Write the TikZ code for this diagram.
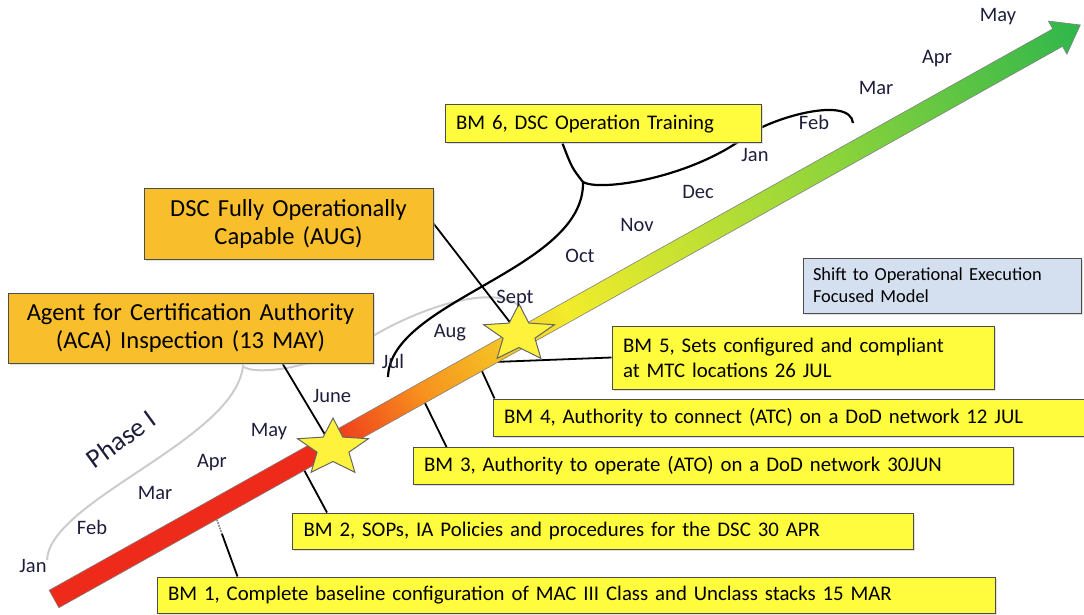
\documentclass[tikz,border=0pt]{standalone}
\usepackage{fontspec}
\setmainfont{Carlito}
\usetikzlibrary{calc,backgrounds,shadows}

\definecolor{ArrowRed}{HTML}{EE2A1B}
\definecolor{ArrowOrange}{HTML}{F7921E}
\definecolor{ArrowYellow}{HTML}{F2EC2B}
\definecolor{ArrowLime}{HTML}{8DD43B}
\definecolor{ArrowGreen}{HTML}{2FB64B}
\definecolor{GoalOrange}{HTML}{F9BE2C}
\definecolor{BMYellow}{HTML}{FFFB3D}
\definecolor{NoteBlue}{HTML}{D4E0F0}
\definecolor{StarYellow}{HTML}{FFF23C}
\definecolor{MonthInk}{HTML}{1E1E3C}

\pgfdeclarehorizontalshading{TimeLine}{100bp}{color(0bp)=(ArrowRed); color(38bp)=(ArrowRed); color(43bp)=(ArrowOrange); color(50bp)=(ArrowYellow); color(63bp)=(ArrowLime); color(75bp)=(ArrowGreen); color(100bp)=(ArrowGreen)}

\begin{document}
\begin{tikzpicture}
    [
        x=1pt, y=-1pt,
        BMBox/.style={rectangle, draw=black!70, line width=1pt, fill=BMYellow, minimum height=36pt, inner xsep=11pt, inner ysep=0pt, align=left, font=\fontsize{20.8}{25}\selectfont, drop shadow={shadow xshift=1.5pt, shadow yshift=-1.5pt, fill=black!25}},
        GoalBox/.style={BMBox, fill=GoalOrange, minimum height=70pt, align=center, font=\fontsize{24.5}{28}\selectfont},
        NoteBox/.style={BMBox, fill=NoteBlue, minimum height=55pt, inner xsep=10pt, font=\fontsize{18.4}{22}\selectfont},
        Month/.style={text=MonthInk, anchor=base, inner sep=0pt, font=\fontsize{20.5}{24}\selectfont},
        Leader/.style={black, line width=1.8pt},
        Brace/.style={black, line width=2.2pt},
        PhaseBrace/.style={black!20, line width=2pt},
        Milestone/.style={fill=StarYellow, draw=black!60, line width=1pt, line join=miter}
    ]
    \useasboundingbox (0,0) rectangle (1084,615);

    \node[GoalBox, text width=343pt] (ACA) at (190.5,328) {Agent for Certification Authority\\(ACA) Inspection (13 MAY)};
    \node[GoalBox, text width=267pt, minimum height=71pt] (DSC) at (288.5,223.5) {DSC Fully Operationally\\Capable (AUG)};
    \node[BMBox, text width=294pt, minimum height=38pt] (BMSix) at (603,124) {BM 6, DSC Operation Training};
    \node[NoteBox, text width=258pt] (Shift) at (942,285.5) {Shift to Operational Execution\\Focused Model};
    \node[BMBox, text width=360pt, minimum height=63pt] (BMFive) at (803,357.5) {BM 5, Sets configured and compliant\\at MTC locations 26 JUL};
    \node[BMBox, text width=577pt, minimum height=37pt] (BMFour) at (792.5,417.5) {BM 4, Authority to connect (ATC) on a DoD network 12 JUL};
    \node[BMBox, text width=578pt, minimum height=37pt] (BMThree) at (713,466) {BM 3, Authority to operate (ATO) on a DoD network 30JUN};
    \node[BMBox, text width=599pt] (BMTwo) at (603,531) {BM 2, SOPs, IA Policies and procedures for the DSC 30 APR};
    \node[BMBox, text width=816pt] (BMOne) at (576,595) {BM 1, Complete baseline configuration of MAC III Class and Unclass stacks 15 MAR};

    \coordinate (StarA) at (333,448);
    \coordinate (StarB) at (519,334);
    \coordinate (OnBMOne) at (216,517);
    \coordinate (BreakBMOne) at (222,534);
    \coordinate (OnBMTwo) at (303,468);
    \coordinate (OnBMThree) at (424,401);
    \coordinate (OnBMFour) at (481,369);
    \coordinate (OnBMFive) at (494,362);

    \begin{scope}[on background layer]
        \draw[PhaseBrace] (47,560) .. controls (50,500) and (235,440) .. (243,366)
            .. controls (250,375) and (310,372) .. (373,336)
            .. controls (420,308) and (495,282) .. (522,308);
        \draw[Brace] (388,377) .. controls (390,300) and (585,270) .. (583,182)
            .. controls (600,192) and (690,178) .. (745,137)
            .. controls (770,118) and (850,95) .. (853,123);
        \draw[Brace] ($(BMSix.south west)+(118,0)$) .. controls (572,168) .. (583,182);

        \draw[Leader] ($(ACA.south west)+(275,0)$) -- (StarA);
        \draw[Leader] (DSC.east) -- (StarB);
        \draw[Leader, densely dotted, black!45] (OnBMOne) -- (BreakBMOne);
        \draw[Leader] (BreakBMOne) -- ($(BMOne.north west)+(81,0)$);
        \draw[Leader] (OnBMTwo) -- ($(BMTwo.north west)+(35,0)$);
        \draw[Leader] (OnBMThree) -- ($(BMThree.north west)+(34,0)$);
        \draw[Leader] (OnBMFour) -- ($(BMFour.north west)+(2,0)$);
        \draw[Leader] (OnBMFive) -- (BMFive.west);

        \begin{scope}[transform canvas={shift={(54,599)}, rotate=29.22}]
            \shadedraw[shading=TimeLine, draw=black!50, line width=0.6pt]
                (0,-10) -- (1150,-10) -- (1150,-19) -- (1176,0) -- (1150,19) -- (1150,10) -- (0,10) -- cycle;
        \end{scope}

        \foreach \s in {StarA,StarB}
            \filldraw[Milestone, shift={(\s)}, xscale=1.24]
                (270:30) -- (306:13.5) -- (342:30) -- (18:13.5) -- (54:30) -- (90:13.5)
                -- (126:30) -- (162:13.5) -- (198:30) -- (234:13.5) -- cycle;
    \end{scope}

    \foreach \m/\x/\y [count=\i] in {Jan/33/572, Feb/92/534, Mar/155/499, Apr/212/467, May/269/436, June/332/402, Jul/393/368, Aug/450/337, Sept/515/303, Oct/580/262, Nov/637/231, Dec/698/198, Jan/755/161, Feb/814/130, Mar/876/95, Apr/937/64, May/998/22}
        \node[Month] (Month\i) at (\x,\y) {\m};

    \node[text=MonthInk, font=\fontsize{27}{30}\selectfont, rotate=36] (PhaseOne) at (121,439) {Phase I};
\end{tikzpicture}
\end{document}
